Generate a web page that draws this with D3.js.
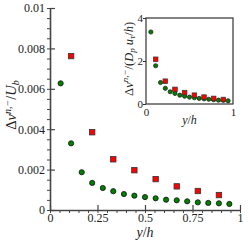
<!DOCTYPE html>
<html>
<head>
<meta charset="utf-8">
<script src="https://cdn.jsdelivr.net/npm/d3@7/dist/d3.min.js"></script>
<style>
  body { margin: 0; background: #fff; }
  svg { display: block; }
  text { font-family: 'Liberation Serif', 'DejaVu Serif', serif; fill: #222; }
</style>
</head>
<body>
<div id="wrapper"></div>
<script>
// y/h positions of the two series
const greenPos = [0.056, 0.111, 0.167, 0.222, 0.278, 0.333, 0.389, 0.444, 0.5,
  0.556, 0.611, 0.667, 0.722, 0.778, 0.833, 0.889, 0.944]
const redPos = [0.111, 0.222, 0.333, 0.444, 0.556, 0.667, 0.778, 0.889]

// main panel: dv/Ub
const greenMain = [0.00627, 0.0033, 0.00187, 0.00134, 0.00109, 0.00093, 0.00079,
  0.00071, 0.00064, 0.00058, 0.00051, 0.00048, 0.00043, 0.00038, 0.00035, 0.00033, 0.0003]
const redMain = [0.00762, 0.00385, 0.00251, 0.00197, 0.00153, 0.00117, 0.00094, 0.00074]

// inset: dv/(Dp u_tau/h)
const greenInset = [3.35, 1.78, 1.0, 0.73, 0.57, 0.49, 0.41, 0.36, 0.32, 0.29,
  0.26, 0.24, 0.22, 0.2, 0.18, 0.17, 0.15]
const redInset = [2.08, 1.06, 0.68, 0.53, 0.41, 0.32, 0.26, 0.21]

const xTicks = [0, 0.25, 0.5, 0.75, 1]
const xTickLabels = ['0', '0.25', '0.5', '0.75', '1']
const yTicks = [0, 0.002, 0.004, 0.006, 0.008, 0.01]
const yTickLabels = ['0', '0.002', '0.004', '0.006', '0.008', '0.01']
const insetXTicks = [0, 1]
const insetYTicks = [0, 2, 4]

const width = 249
const height = 249

const svg = d3.select('#wrapper')
  .append('svg')
  .attr('width', width)
  .attr('height', height)

// main scales
const xScale = d3.scaleLinear().domain([0, 1]).range([50, 240])
const yScale = d3.scaleLinear().domain([0, 0.01]).range([210, 8])

const axisColor = '#444'

// minor ticks (outward)
const xMinor = d3.range(0, 1.0001, 0.05)
const yMinor = d3.range(0, 0.01001, 0.0005)

const main = svg.append('g').attr('class', 'main')

main.append('g')
  .attr('transform', `translate(0,${yScale(0)})`)
  .call(d3.axisBottom(xScale).tickValues(xMinor).tickSize(3).tickFormat(''))
  .call(g => g.select('.domain').remove())
  .selectAll('line').attr('stroke', axisColor)

main.append('g')
  .attr('transform', `translate(${xScale(0)},0)`)
  .call(d3.axisLeft(yScale).tickValues(yMinor).tickSize(3).tickFormat(''))
  .call(g => g.select('.domain').remove())
  .selectAll('line').attr('stroke', axisColor)

// major ticks (inward) with labels
const xAxis = main.append('g')
  .attr('transform', `translate(0,${yScale(0)})`)
  .call(d3.axisTop(xScale).tickValues(xTicks).tickSize(5).tickSizeOuter(0)
    .tickFormat((d, i) => xTickLabels[i]))
xAxis.select('.domain').attr('stroke', axisColor).attr('stroke-width', 1.6)
xAxis.selectAll('line').attr('stroke', axisColor).attr('stroke-width', 1.2)
xAxis.selectAll('text')
  .attr('y', 12).attr('dy', 0)
  .attr('font-size', 12)
  .attr('fill', '#222')

const yAxis = main.append('g')
  .attr('transform', `translate(${xScale(0)},0)`)
  .call(d3.axisRight(yScale).tickValues(yTicks).tickSize(5).tickSizeOuter(0)
    .tickFormat((d, i) => yTickLabels[i]))
yAxis.select('.domain').attr('stroke', axisColor).attr('stroke-width', 1.6)
yAxis.selectAll('line').attr('stroke', axisColor).attr('stroke-width', 1.2)
yAxis.selectAll('text')
  .attr('x', -5)
  .attr('text-anchor', 'end')
  .attr('font-size', 12)
  .attr('fill', '#222')

// main markers
main.append('g')
  .selectAll('circle')
  .data(greenMain)
  .join('circle')
  .attr('cx', (d, i) => xScale(greenPos[i]))
  .attr('cy', d => yScale(d))
  .attr('r', 2.6)
  .attr('fill', '#008000')
  .attr('stroke', '#111')
  .attr('stroke-width', 0.8)

main.append('g')
  .selectAll('rect')
  .data(redMain)
  .join('rect')
  .attr('x', (d, i) => xScale(redPos[i]) - 2.7)
  .attr('y', d => yScale(d) - 2.7)
  .attr('width', 5.4)
  .attr('height', 5.4)
  .attr('fill', '#ff0000')
  .attr('stroke', '#333')
  .attr('stroke-width', 0.8)

// main axis titles
const yTitle = main.append('text')
  .attr('transform', `translate(16,${yScale(0.0052)}) rotate(-90)`)
  .attr('text-anchor', 'middle')
  .attr('font-size', 14.5)
yTitle.append('tspan').text('Δ')
yTitle.append('tspan').attr('font-style', 'italic').text('v')
yTitle.append('tspan').attr('font-style', 'italic').attr('font-size', 10).attr('dy', -5).text('n,−')
yTitle.append('tspan').attr('dy', 5).text('/')
yTitle.append('tspan').attr('font-style', 'italic').text('U')
yTitle.append('tspan').attr('font-style', 'italic').attr('font-size', 10).attr('dy', 3).text('b')

const xTitle = main.append('text')
  .attr('x', xScale(0.5))
  .attr('y', 237)
  .attr('text-anchor', 'middle')
  .attr('font-size', 14)
xTitle.append('tspan').attr('font-style', 'italic').text('y')
xTitle.append('tspan').text('/')
xTitle.append('tspan').attr('font-style', 'italic').text('h')

// inset
const ixScale = d3.scaleLinear().domain([0, 1]).range([146, 233])
const iyScale = d3.scaleLinear().domain([0, 4]).range([104, 18])

const inset = svg.append('g').attr('class', 'inset')

inset.append('rect')
  .attr('x', ixScale(0))
  .attr('y', iyScale(4))
  .attr('width', ixScale(1) - ixScale(0))
  .attr('height', iyScale(0) - iyScale(4))
  .attr('fill', '#fff')
  .attr('stroke', '#333')
  .attr('stroke-width', 1.2)

const ixAxis = inset.append('g')
  .attr('transform', `translate(0,${iyScale(0)})`)
  .call(d3.axisBottom(ixScale).tickValues(insetXTicks).tickSize(0).tickFormat(d3.format('d')))
ixAxis.select('.domain').remove()
ixAxis.selectAll('text').attr('y', 4).attr('dy', '0.71em').attr('font-size', 11).attr('fill', '#222')

const iyAxis = inset.append('g')
  .attr('transform', `translate(${ixScale(0)},0)`)
  .call(d3.axisLeft(iyScale).tickValues(insetYTicks).tickSize(3).tickFormat(d3.format('d')))
iyAxis.select('.domain').remove()
iyAxis.selectAll('line').attr('stroke', '#333')
iyAxis.selectAll('text').attr('x', -3).attr('font-size', 11).attr('fill', '#222')

inset.append('g')
  .selectAll('circle')
  .data(greenInset)
  .join('circle')
  .attr('cx', (d, i) => ixScale(greenPos[i]))
  .attr('cy', d => iyScale(d))
  .attr('r', 2.1)
  .attr('fill', '#008000')
  .attr('stroke', '#111')
  .attr('stroke-width', 0.7)

inset.append('g')
  .selectAll('rect')
  .data(redInset)
  .join('rect')
  .attr('x', (d, i) => ixScale(redPos[i]) - 2.3)
  .attr('y', d => iyScale(d) - 2.3)
  .attr('width', 4.6)
  .attr('height', 4.6)
  .attr('fill', '#ff0000')
  .attr('stroke', '#333')
  .attr('stroke-width', 0.7)

const iyTitle = inset.append('text')
  .attr('transform', `translate(133,${iyScale(2.1)}) rotate(-90)`)
  .attr('text-anchor', 'middle')
  .attr('font-size', 12.5)
iyTitle.append('tspan').text('Δ')
iyTitle.append('tspan').attr('font-style', 'italic').text('v')
iyTitle.append('tspan').attr('font-style', 'italic').attr('font-size', 9).attr('dy', -5).text('n,−')
iyTitle.append('tspan').attr('dy', 5).text('/(')
iyTitle.append('tspan').attr('font-style', 'italic').text('D')
iyTitle.append('tspan').attr('font-style', 'italic').attr('font-size', 9).attr('dy', 2).text('p')
iyTitle.append('tspan').attr('font-style', 'italic').attr('dy', -2).text(' u')
iyTitle.append('tspan').attr('font-style', 'italic').attr('font-size', 9).attr('dy', 2).text('τ')
iyTitle.append('tspan').attr('dy', -2).text('/')
iyTitle.append('tspan').attr('font-style', 'italic').text('h')
iyTitle.append('tspan').text(')')

const ixTitle = inset.append('text')
  .attr('x', ixScale(0.5))
  .attr('y', 124)
  .attr('text-anchor', 'middle')
  .attr('font-size', 12)
ixTitle.append('tspan').attr('font-style', 'italic').text('y')
ixTitle.append('tspan').text('/')
ixTitle.append('tspan').attr('font-style', 'italic').text('h')
</script>
</body>
</html>
